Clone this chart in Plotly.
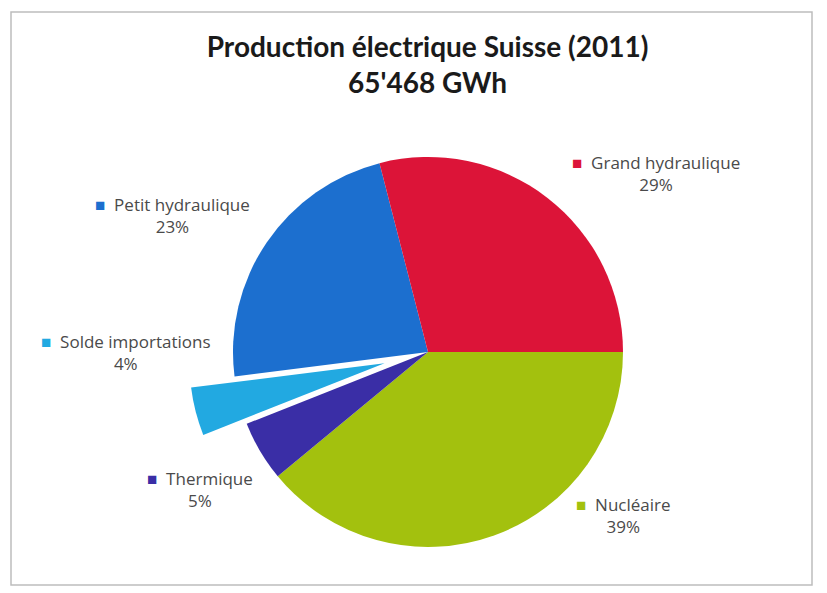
import plotly.graph_objects as go

# Data (order clockwise starting at 3 o'clock)
categories = ["Nucléaire", "Thermique", "Solde importations", "Petit hydraulique", "Grand hydraulique"]
values = [39, 5, 4, 23, 29]
colors = ["#a3c10e", "#3a2ea6", "#22a9e1", "#1c6fcf", "#dc1438"]
pulls = [0, 0, 0.23, 0, 0]

# Label placement (paper coords, layout only)
label_pos = {
    "Grand hydraulique": (0.793, 0.708),
    "Nucléaire": (0.754, 0.131),
    "Thermique": (0.242, 0.174),
    "Solde importations": (0.152, 0.405),
    "Petit hydraulique": (0.208, 0.637),
}

W, H = 827, 593
cx, cy, r = 428, 352, 195
half = r * (1 + max(pulls))

fig = go.Figure(go.Pie(
    labels=categories,
    values=values,
    sort=False,
    direction="clockwise",
    rotation=90,
    pull=pulls,
    marker=dict(colors=colors, line=dict(width=0)),
    textinfo="none",
    hoverinfo="label+percent",
    showlegend=False,
    domain=dict(x=[(cx - half) / W, (cx + half) / W],
                y=[1 - (cy + half) / H, 1 - (cy - half) / H]),
))

total = sum(values)
annotations = []
for cat, val, col in zip(categories, values, colors):
    x, y = label_pos[cat]
    pct = round(val / total * 100)
    annotations.append(dict(
        x=x, y=y, xref="paper", yref="paper", showarrow=False,
        xanchor="center", yanchor="middle", align="center",
        text=f"<span style='color:{col}'>■</span>  {cat}<br>{pct}%",
        font=dict(family="Open Sans", size=17, color="#4a4a4a"),
    ))

fig.update_layout(
    width=W, height=H,
    margin=dict(l=0, r=0, t=0, b=0),
    paper_bgcolor="white",
    plot_bgcolor="white",
    title=dict(
        text="Production électrique Suisse (2011)<br>65'468 GWh",
        x=0.517, xanchor="center", y=0.904, yanchor="top",
        font=dict(family="Lato", size=28, color="#1a1a1a", weight="bold"),
    ),
    annotations=annotations,
    shapes=[dict(type="rect", xref="paper", yref="paper",
                 x0=11 / W, x1=812 / W, y0=1 - 585 / H, y1=1 - 12 / H,
                 line=dict(color="#bdbdbd", width=1.5), fillcolor="rgba(0,0,0,0)")],
)

fig.write_html("out.html")
